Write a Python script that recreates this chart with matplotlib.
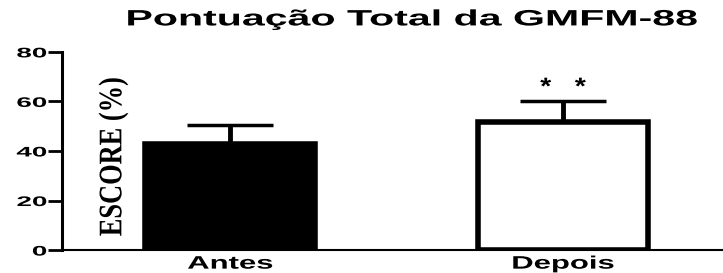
import matplotlib.pyplot as plt
from matplotlib.patheffects import AbstractPathEffect
from matplotlib.transforms import Affine2D

groups = ['Antes', 'Depois']
means = [42.8, 51.7]
sem_up = [7.7, 8.5]
colors = ['black', 'white']
significance = '*   *'


class Stretch(AbstractPathEffect):
    # widen text horizontally, the reference image is stretched sideways
    def __init__(self, sx, anchor='center'):
        super().__init__()
        self.sx = sx
        self.anchor = anchor

    def draw_path(self, renderer, gc, tpath, affine, rgbFace=None):
        ext = tpath.get_extents(affine)
        if self.anchor == 'right':
            cx = ext.x1
        else:
            cx = (ext.x0 + ext.x1) / 2
        t = affine + Affine2D().translate(-cx, 0).scale(self.sx, 1).translate(cx, 0)
        renderer.draw_path(gc, tpath, t, rgbFace)


plt.rcParams['font.family'] = ['Liberation Sans', 'DejaVu Sans']

fig = plt.figure(figsize=(7.23, 2.73), dpi=100)
ax = fig.add_axes([0.0858, 0.084, 0.914, 0.726])

x = [0, 1]
ax.bar(x, means, width=0.51, color=colors, edgecolor='black', linewidth=4, zorder=2)
ax.errorbar(x, means, yerr=[[0, 0], sem_up], fmt='none', ecolor='black',
            elinewidth=3.5, capsize=31, capthick=2.5, zorder=1)
ax.text(1, means[1] + sem_up[1] + 0.8, significance, ha='center', va='bottom',
        fontsize=17, fontweight='bold', path_effects=[Stretch(1.2)])

ax.set_xlim(-0.505, 1.48)
ax.set_ylim(0, 80)
ax.set_yticks([0, 20, 40, 60, 80])
ax.set_xticks(x)
ax.set_xticklabels(groups)
ax.tick_params(axis='x', length=0, pad=4)
ax.tick_params(axis='y', length=10, width=2, pad=1)
for lab in ax.get_xticklabels():
    lab.set_fontweight('bold')
    lab.set_fontsize(13)
    lab.set_path_effects([Stretch(1.72)])
for lab in ax.get_yticklabels():
    lab.set_fontweight('bold')
    lab.set_fontsize(10)
    lab.set_path_effects([Stretch(2.0, 'right')])

ax.spines['top'].set_visible(False)
ax.spines['right'].set_visible(False)
ax.spines['left'].set_linewidth(2.2)
ax.spines['bottom'].set_linewidth(1.5)

ax.text(-0.35, 37.6, 'ESCORE (%)', rotation=90, ha='center', va='center',
        fontsize=19, fontweight='bold', family=['Liberation Serif', 'DejaVu Serif'],
        path_effects=[Stretch(1.25)])

fig.text(0.57, 0.927, 'Pontuação Total da GMFM-88', ha='center', va='center',
         fontsize=16, fontweight='bold', path_effects=[Stretch(1.85)])

fig.savefig('out.png', dpi=100)
